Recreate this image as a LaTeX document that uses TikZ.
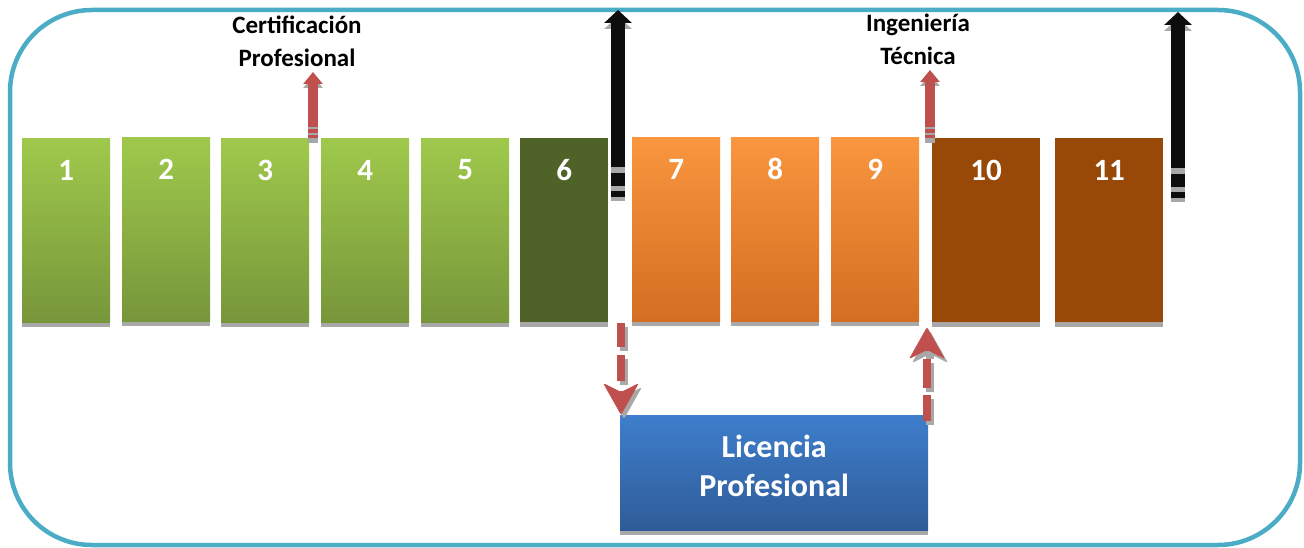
\documentclass[tikz,border=0pt]{standalone}
\usepackage{fontspec}
\setmainfont{Carlito}
\usetikzlibrary{arrows.meta,calc}
\definecolor{frame}{HTML}{4BACC6}
\definecolor{gtop}{HTML}{9FC94C}
\definecolor{gbot}{HTML}{77963A}
\definecolor{dgreen}{HTML}{4F6228}
\definecolor{otop}{HTML}{F9963E}
\definecolor{obot}{HTML}{D46E22}
\definecolor{brown}{HTML}{984807}
\definecolor{btop}{HTML}{3E7ECC}
\definecolor{bbot}{HTML}{2F5C98}
\definecolor{ared}{HTML}{C0504D}
\definecolor{ablack}{HTML}{0D0D0D}
\definecolor{shad}{HTML}{A8A8A8}
\tikzset{
  box/.style={draw=none, minimum height=184pt, anchor=north west, inner sep=0pt,
    preaction={fill=shad, transform canvas={yshift=-5pt}}},
  gbox/.style={box, minimum width=88pt, top color=gtop, bottom color=gbot},
  dbox/.style={box, minimum width=88pt, fill=dgreen},
  obox/.style={box, minimum width=88pt, top color=otop, bottom color=obot},
  bbox/.style={box, minimum width=108pt, fill=brown},
  num/.style={anchor=center, yshift=-32pt, text=white, font=\fontsize{31}{32}\selectfont\bfseries},
  blk/.style={line width=14pt, draw=ablack, -{Triangle[width=27pt,length=13pt]}},
  blkstripe/.style={line width=14pt, draw=ablack},
  blkshad/.style={line width=14pt, draw=shad, -{Triangle[width=27pt,length=13pt]}},
  rdarr/.style={line width=10pt, draw=ared, -{Triangle[width=19pt,length=12pt]}},
  rdstripe/.style={line width=10pt, draw=ared},
  rdshad/.style={line width=10pt, draw=shad, -{Triangle[width=19pt,length=12pt]}},
  dseg/.style={line width=8pt, draw=ared},
  dsegshad/.style={line width=8pt, draw=shad},
  lbl/.style={align=center, font=\fontsize{25}{33}\selectfont\bfseries, text=black},
}
\begin{document}
\begin{tikzpicture}[x=1pt,y=-1pt]
\useasboundingbox (0,0) rectangle (1304,548);
% outer frame
\draw[frame, line width=4.5pt, rounded corners=82pt] (10,10) rectangle (1300,545);

% boxes
\node[gbox, label={[num]north:1}] (b1) at (22,138) {};
\node[gbox, label={[num]north:2}] (b2) at (122,137) {};
\node[gbox, label={[num]north:3}] (b3) at (221,138) {};
\node[gbox, label={[num]north:4}] (b4) at (321,138) {};
\node[gbox, label={[num]north:5}] (b5) at (421,138) {};
\node[dbox, label={[num]north:6}] (b6) at (520,138) {};
\node[obox, label={[num]north:7}] (b7) at (632,137) {};
\node[obox, label={[num]north:8}] (b8) at (731,137) {};
\node[obox, label={[num]north:9}] (b9) at (831,137) {};
\node[bbox, label={[num]north:10}] (b10) at (932,138) {};
\node[bbox, label={[num]north:11}] (b11) at (1055,138) {};

% licencia box
\node[draw=none, anchor=north west, minimum width=308pt, minimum height=115pt,
  top color=btop, bottom color=bbot, inner sep=0pt,
  preaction={fill=shad, transform canvas={yshift=-5pt}}] (lp) at (620,415) {};
\node[align=center, text=white, font=\fontsize{32}{39}\selectfont\bfseries] (lpt) at ($(lp.center)+(0,-7)$) {Licencia\\Profesional};

% labels
\node[lbl] (cp) at (297,41) {Certificación\\Profesional};
\node[lbl] (it) at (918,39) {Ingeniería\\Técnica};

% black arrows
\coordinate (k1s) at (618,167);
\coordinate (k1e) at (618,10);
\coordinate (k2s) at (1178,168);
\coordinate (k2e) at (1178,12);
\foreach \s/\e in {k1s/k1e,k2s/k2e}{
  \draw[blkshad] ($(\s)+(0,6)$) -- ($(\e)+(0,6)$);
  \draw[line width=14pt, draw=shad] ($(\s)+(0,0)$) -- ($(\s)+(0,34)$);
  \draw[blk] (\s) -- (\e);
  \draw[blkstripe] ($(\s)+(0,6)$) -- ($(\s)+(0,19)$);
  \draw[blkstripe] ($(\s)+(0,24)$) -- ($(\s)+(0,30)$);
}

% red arrows
\coordinate (r1s) at (313,127);
\coordinate (r1e) at (313,72);
\coordinate (r2s) at (930,127);
\coordinate (r2e) at (930,70);
\foreach \s/\e in {r1s/r1e,r2s/r2e}{
  \draw[rdshad] ($(\s)+(0,4)$) -- ($(\e)+(0,4)$);
  \draw[line width=10pt, draw=shad] (\s) -- ($(\s)+(0,16)$);
  \draw[rdarr] (\s) -- (\e);
  \draw[rdstripe] ($(\s)+(0,2.5)$) -- ($(\s)+(0,6.5)$);
  \draw[rdstripe] ($(\s)+(0,8.5)$) -- ($(\s)+(0,11.5)$);
}

% dashed arrow down (6/7 -> Licencia)
\coordinate (d1s) at (621,323);
\coordinate (d1e) at (621,415);
\foreach \dx/\dy/\st in {3/4/dsegshad, 0/0/dseg}{
  \draw[\st] ($(d1s)+(\dx,\dy)$) -- ($(d1s)+(\dx,24+\dy)$);
  \draw[\st] ($(d1s)+(\dx,32+\dy)$) -- ($(d1s)+(\dx,58+\dy)$);
}
\fill[shad, rounded corners=2pt, shift={($(d1e)+(3,4)$)}] (0,0) -- (-18,-32) -- (0,-23) -- (18,-32) -- cycle;
\fill[ared, rounded corners=2pt, shift={(d1e)}] (0,0) -- (-18,-32) -- (0,-23) -- (18,-32) -- cycle;

% dashed arrow up (Licencia -> 10)
\coordinate (u1s) at (927,421);
\coordinate (u1e) at (927,327);
\foreach \dx/\dy/\st in {3/4/dsegshad, 0/0/dseg}{
  \draw[\st] ($(u1s)+(\dx,\dy)$) -- ($(u1s)+(\dx,-26+\dy)$);
  \draw[\st] ($(u1s)+(\dx,-33+\dy)$) -- ($(u1s)+(\dx,-62+\dy)$);
  \draw[\st] ($(u1s)+(\dx,-66+\dy)$) -- ($(u1s)+(\dx,-72+\dy)$);
}
\fill[shad, rounded corners=2pt, shift={($(u1e)+(3,4)$)}] (0,0) -- (-18,32) -- (0,23) -- (18,32) -- cycle;
\fill[ared, rounded corners=2pt, shift={(u1e)}] (0,0) -- (-18,32) -- (0,23) -- (18,32) -- cycle;
\end{tikzpicture}
\end{document}
